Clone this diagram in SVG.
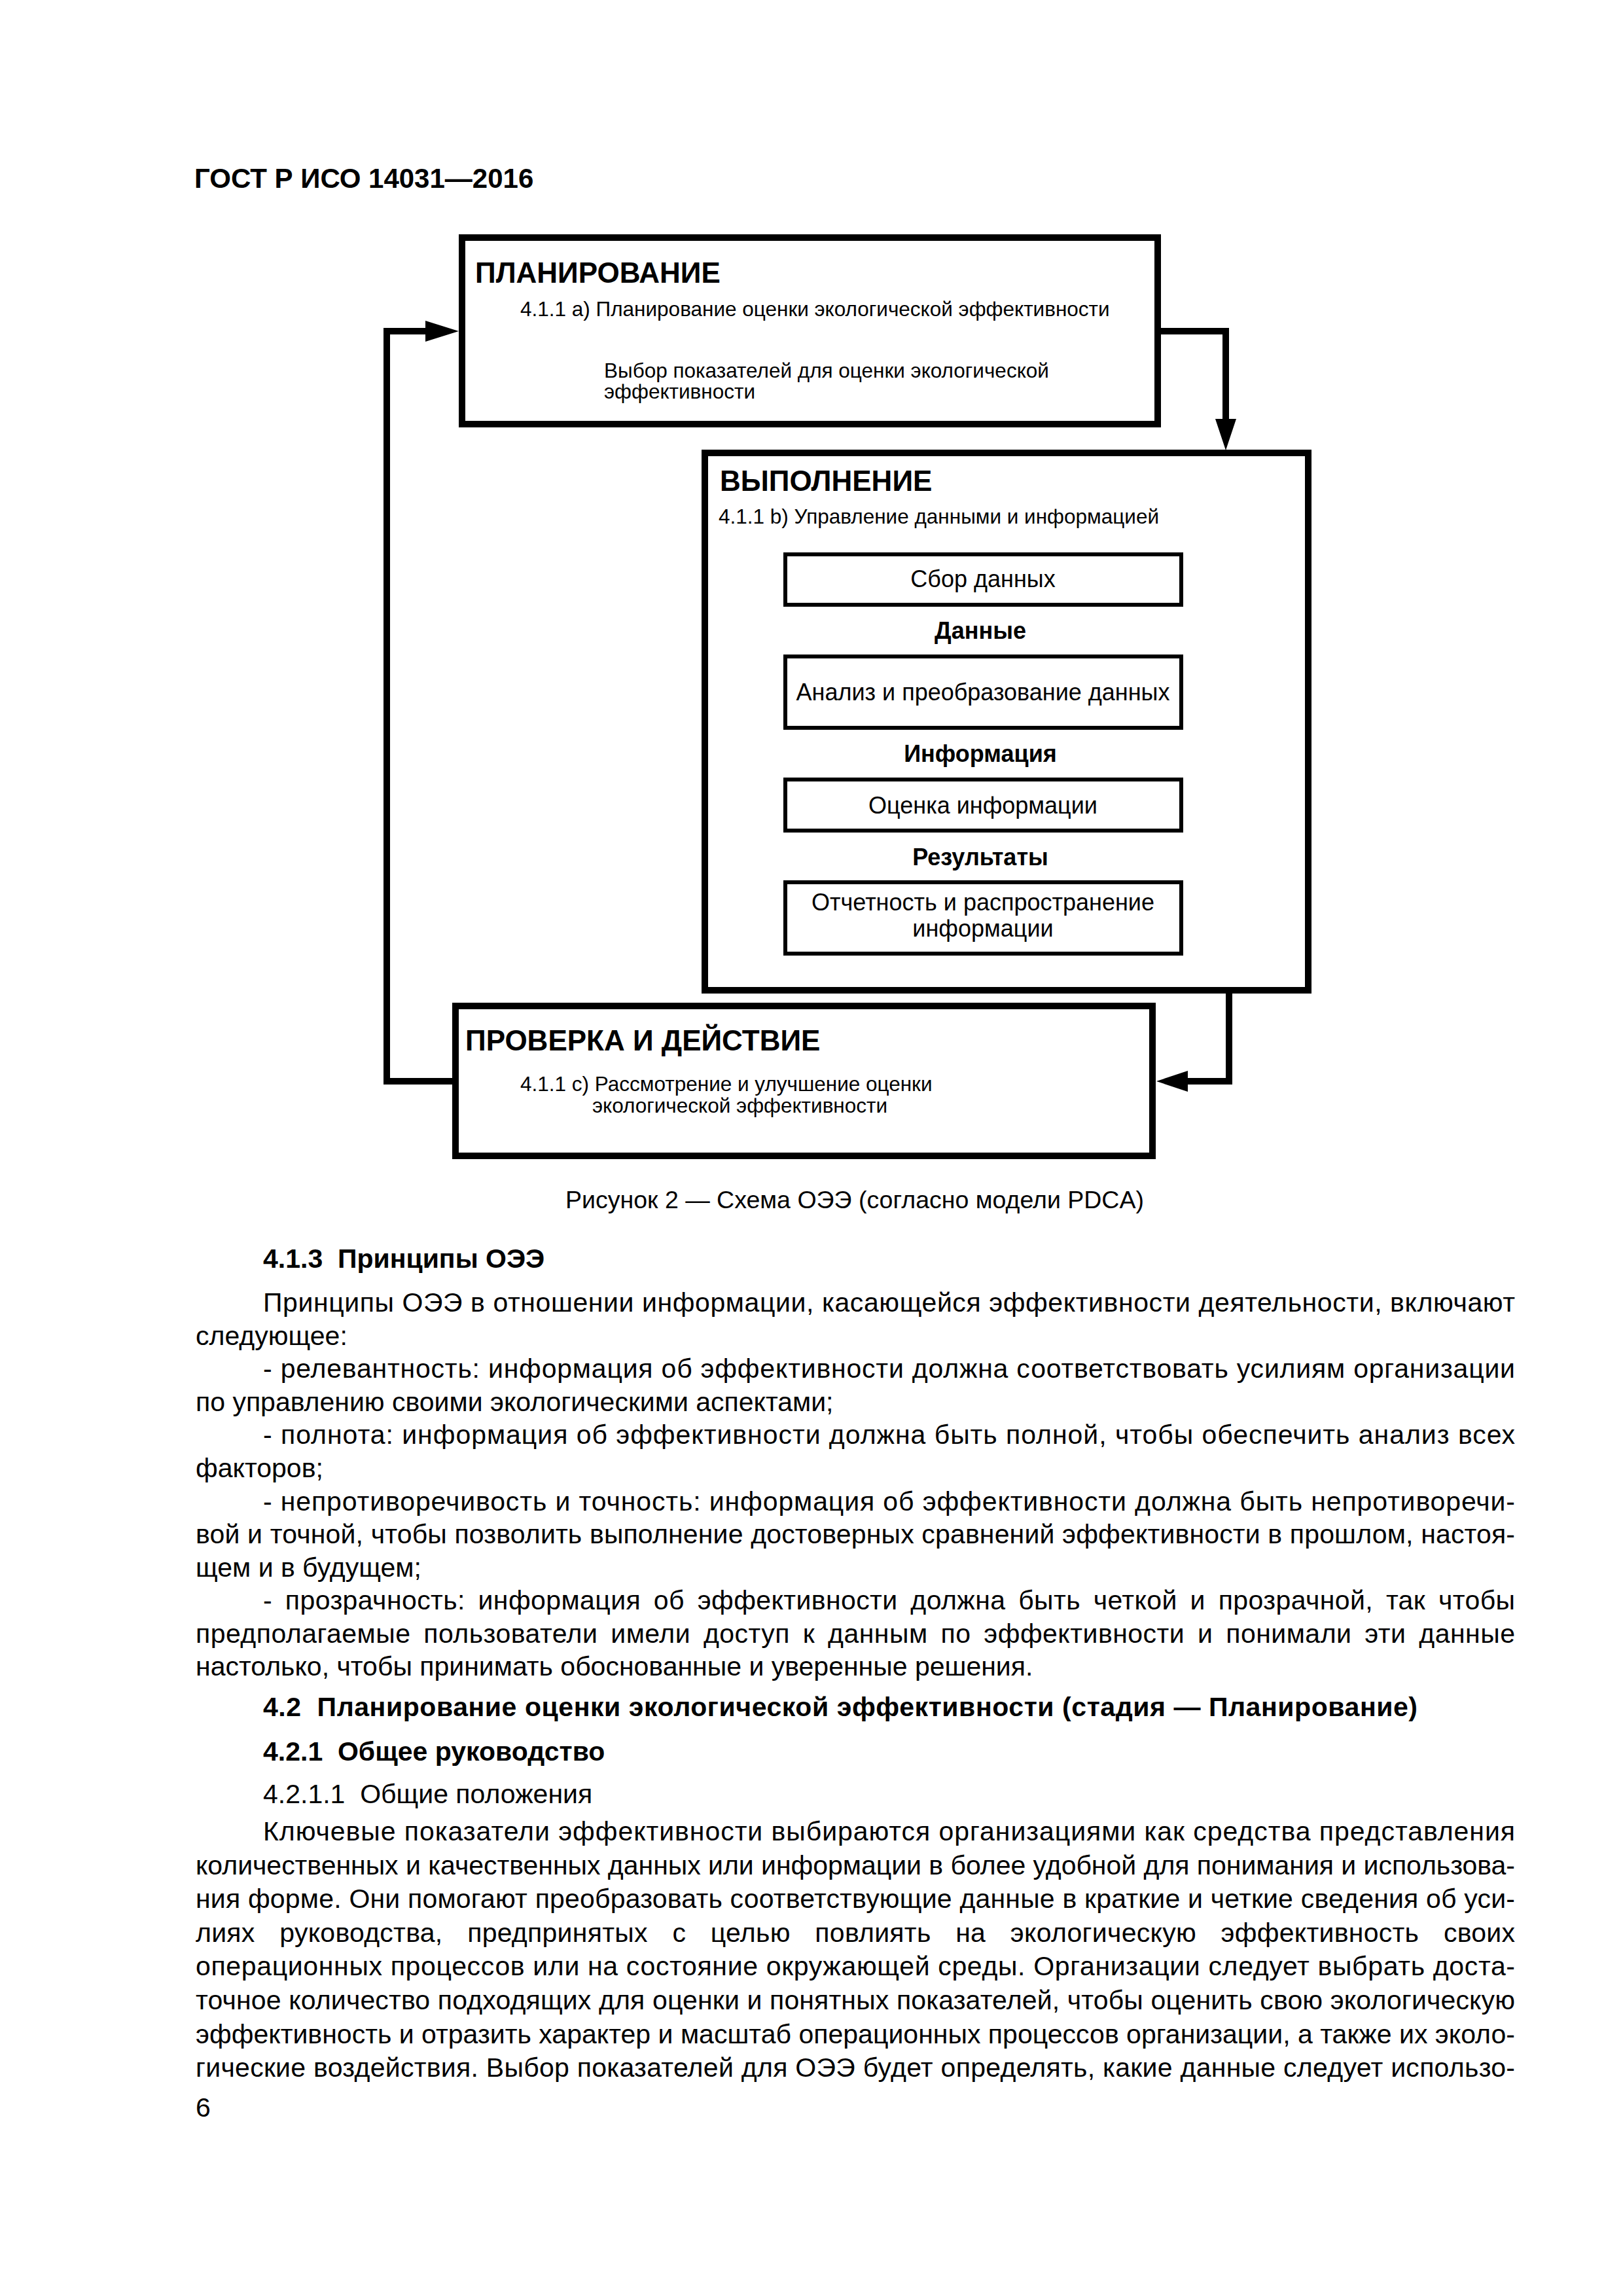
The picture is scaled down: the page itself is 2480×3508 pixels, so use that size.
<svg xmlns="http://www.w3.org/2000/svg" width="2480" height="3508" viewBox="0 0 2480 3508">
<style>
text{font-family:"Liberation Sans",Arial,sans-serif;fill:#000}
.hdr{font-size:42px;font-weight:bold}
.ttl{font-size:44px;font-weight:bold}
.sub{font-size:31.5px}
.in{font-size:36px}
.lbl{font-size:36px;font-weight:bold}
.cap{font-size:37.5px}
.body{font-size:41px}
.bh{font-size:41px;font-weight:bold}
.outer{fill:#fff;stroke:#000;stroke-width:10}
.inner{fill:#fff;stroke:#000;stroke-width:6}
.cn{fill:none;stroke:#000;stroke-width:10}
.ci{fill:none;stroke:#000;stroke-width:6}
.ah{fill:#000;stroke:none}
</style>
<rect width="2480" height="3508" fill="#fff"/>
<text class="hdr" x="297" y="287">ГОСТ Р ИСО 14031—2016</text>

<g id="connectors">
<path class="cn" d="M1769 506 H1873 V642"/>
<polygon class="ah" points="1857,640 1889,640 1873,688"/>
<path class="cn" d="M1878 1513 V1652 H1813"/>
<polygon class="ah" points="1815,1636 1815,1668 1767,1652"/>
<path class="cn" d="M696 1652 H591 V506 H652"/>
<polygon class="ah" points="650,490 650,522 701,506"/>
<path class="ci" d="M1725 924 V975"/>
<polygon class="ah" points="1716,973 1734,973 1725,1001"/>
<path class="ci" d="M1725 955 H1896"/>
<polygon class="ah" points="1894,946 1894,964 1922,955"/>
<path class="ci" d="M1725 1112 V1165"/>
<polygon class="ah" points="1716,1163 1734,1163 1725,1190"/>
<path class="ci" d="M1725 1146 H1896"/>
<polygon class="ah" points="1894,1137 1894,1155 1922,1146"/>
<path class="ci" d="M1725 1269 V1320"/>
<polygon class="ah" points="1716,1318 1734,1318 1725,1346"/>
<path class="ci" d="M1923 952 V1400 H1834"/>
<polygon class="ah" points="1836,1391 1836,1409 1808,1400"/>
</g>

<g id="planning">
<rect class="outer" x="706" y="363" width="1063" height="285"/>
<text class="ttl" x="726" y="432">ПЛАНИРОВАНИЕ</text>
<text class="sub" x="795" y="483">4.1.1 a) Планирование оценки экологической эффективности</text>
<text class="sub" x="923" y="577">Выбор показателей для оценки экологической</text>
<text class="sub" x="923" y="609">эффективности</text>
</g>

<g id="execution">
<rect class="outer" x="1077" y="692" width="922" height="821" fill="none"/>
<text class="ttl" x="1100" y="750">ВЫПОЛНЕНИЕ</text>
<text class="sub" x="1098" y="800">4.1.1 b) Управление данными и информацией</text>
</g>

<g id="collect">
<rect class="inner" x="1200" y="847" width="605" height="77"/>
<text class="in" x="1502" y="897" text-anchor="middle">Сбор данных</text>
</g>
<g id="analysis">
<rect class="inner" x="1200" y="1003" width="605" height="109"/>
<text class="in" x="1502" y="1070" text-anchor="middle">Анализ и преобразование данных</text>
</g>
<g id="evaluation">
<rect class="inner" x="1200" y="1191" width="605" height="78"/>
<text class="in" x="1502" y="1243" text-anchor="middle">Оценка информации</text>
</g>
<g id="reporting">
<rect class="inner" x="1200" y="1348" width="605" height="109"/>
<text class="in" x="1502" y="1391" text-anchor="middle">Отчетность и распространение</text>
<text class="in" x="1502" y="1431" text-anchor="middle">информации</text>
</g>

<g id="flow-labels">
<text class="lbl" x="1498" y="976" text-anchor="middle">Данные</text>
<text class="lbl" x="1498" y="1164" text-anchor="middle">Информация</text>
<text class="lbl" x="1498" y="1322" text-anchor="middle">Результаты</text>
</g>

<g id="check">
<rect class="outer" x="696" y="1537" width="1065" height="229"/>
<text class="ttl" x="711" y="1605">ПРОВЕРКА И ДЕЙСТВИЕ</text>
<text class="sub" x="795" y="1667">4.1.1 c) Рассмотрение и улучшение оценки</text>
<text class="sub" x="905" y="1700">экологической эффективности</text>
</g>

<text class="cap" x="1306" y="1846" text-anchor="middle">Рисунок 2 — Схема ОЭЭ (согласно модели PDCA)</text>

<g id="body">
<text class="bh" x="402" y="1937">4.1.3&#160; Принципы ОЭЭ</text>
<text class="body" x="402" y="2004" textLength="1913">Принципы ОЭЭ в отношении информации, касающейся эффективности деятельности, включают</text>
<text class="body" x="299" y="2055">следующее:</text>
<text class="body" x="402" y="2105" textLength="1913">- релевантность: информация об эффективности должна соответствовать усилиям организации</text>
<text class="body" x="299" y="2156">по управлению своими экологическими аспектами;</text>
<text class="body" x="402" y="2206" textLength="1913">- полнота: информация об эффективности должна быть полной, чтобы обеспечить анализ всех</text>
<text class="body" x="299" y="2257">факторов;</text>
<text class="body" x="402" y="2308" textLength="1913">- непротиворечивость и точность: информация об эффективности должна быть непротиворечи-</text>
<text class="body" x="299" y="2358" textLength="2016">вой и точной, чтобы позволить выполнение достоверных сравнений эффективности в прошлом, настоя-</text>
<text class="body" x="299" y="2409">щем и в будущем;</text>
<text class="body" x="402" y="2459" textLength="1913" word-spacing="8">- прозрачность: информация об эффективности должна быть четкой и прозрачной, так чтобы</text>
<text class="body" x="299" y="2510" textLength="2016" word-spacing="8">предполагаемые пользователи имели доступ к данным по эффективности и понимали эти данные</text>
<text class="body" x="299" y="2560">настолько, чтобы принимать обоснованные и уверенные решения.</text>
<text class="bh" x="402" y="2622" textLength="1764">4.2&#160; Планирование оценки экологической эффективности (стадия — Планирование)</text>
<text class="bh" x="402" y="2690">4.2.1&#160; Общее руководство</text>
<text class="body" x="402" y="2755">4.2.1.1&#160; Общие положения</text>
<text class="body" x="402" y="2812" textLength="1913">Ключевые показатели эффективности выбираются организациями как средства представления</text>
<text class="body" x="299" y="2864" textLength="2016">количественных и качественных данных или информации в более удобной для понимания и использова-</text>
<text class="body" x="299" y="2915" textLength="2016">ния форме. Они помогают преобразовать соответствующие данные в краткие и четкие сведения об уси-</text>
<text class="body" x="299" y="2967" textLength="2016" word-spacing="26">лиях руководства, предпринятых с целью повлиять на экологическую эффективность своих</text>
<text class="body" x="299" y="3018" textLength="2016">операционных процессов или на состояние окружающей среды. Организации следует выбрать доста-</text>
<text class="body" x="299" y="3070" textLength="2016">точное количество подходящих для оценки и понятных показателей, чтобы оценить свою экологическую</text>
<text class="body" x="299" y="3122" textLength="2016">эффективность и отразить характер и масштаб операционных процессов организации, а также их эколо-</text>
<text class="body" x="299" y="3173" textLength="2016">гические воздействия. Выбор показателей для ОЭЭ будет определять, какие данные следует использо-</text>
<text class="body" x="299" y="3234">6</text>
</g>
</svg>
